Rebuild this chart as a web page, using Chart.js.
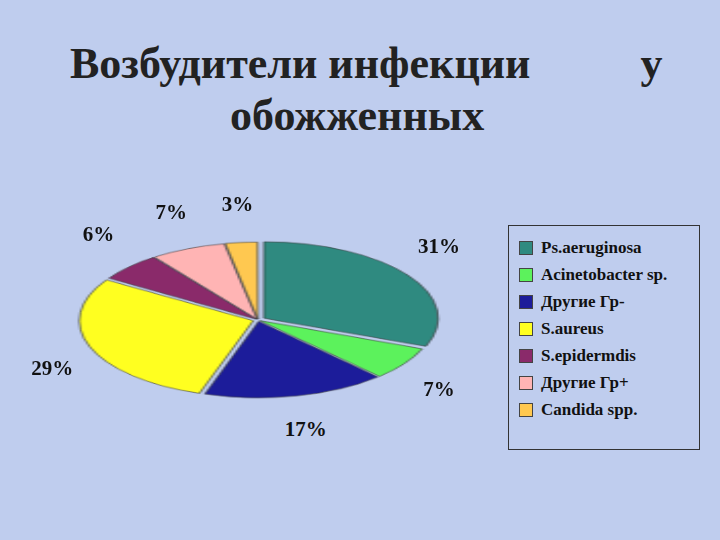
<!DOCTYPE html>
<html><head><meta charset="utf-8">
<script src="https://cdn.jsdelivr.net/npm/chart.js@4"></script>
<style>
body{margin:0;width:720px;height:540px;background:#bfcdee;font-family:"Liberation Serif",serif;position:relative;overflow:hidden}
#t1{position:absolute;left:70px;top:38px;font-size:44px;font-weight:bold;color:#222;white-space:pre}
#t2{position:absolute;left:230px;top:90px;font-size:44px;font-weight:bold;color:#222}
#wrap{position:absolute;left:158px;top:220px;width:200px;height:200px;transform:scale(2.05,0.9)}
#leg{position:absolute;left:508px;top:225px;width:192px;height:225px;border:1px solid #333;box-sizing:border-box;padding:8px 0 0 10px}
.it{display:flex;align-items:center;height:27px;font-size:17px;font-weight:bold;color:#111}
.sw{width:12px;height:12px;margin-right:8px;border:1px solid #444}
.pl{position:absolute;font-size:21px;font-weight:bold;color:#111;transform:translate(-50%,-50%)}
</style></head><body>
<div id="t1">Возбудители инфекции          у</div>
<div id="t2">обожженных</div>
<div id="wrap"><canvas id="c"></canvas></div>
<div id="leg"></div>
<div id="labs"></div>
<script>
const categories=["Ps.aeruginosa","Acinetobacter sp.","Другие Гр-","S.aureus","S.epidermdis","Другие Гр+","Candida spp."];
const values=[31,7,17,29,6,7,3];
const colors=["#2f8a80","#5cf25c","#1c1c9a","#ffff20","#8a2a6a","#ffb4b4","#ffc850"];
const leg=document.getElementById('leg');
categories.forEach((c,i)=>{leg.innerHTML+=`<div class="it"><span class="sw" style="background:${colors[i]}"></span>${c}</div>`;});
const cx=258,cy=310,sx=2.05,sy=0.9;
const labelPlugin={id:'lbl',afterRender(ch){const meta=ch.getDatasetMeta(0);let h='';
meta.data.forEach((a,i)=>{const m=(a.startAngle+a.endAngle)/2;const r=a.outerRadius+22;
h+=`<div class="pl" style="left:${cx+Math.cos(m)*r*sx}px;top:${cy+Math.sin(m)*r*sy+ (Math.sin(m)>0?25:-10)}px">${values[i]}%</div>`;});
document.getElementById('labs').innerHTML=h;}};
new Chart(document.getElementById('c'),{type:'pie',data:{labels:categories,datasets:[{data:values,backgroundColor:colors,borderColor:'#333',borderWidth:0.6,offset:[14,4,6,10,4,4,4]}]},
options:{responsive:true,maintainAspectRatio:false,animation:false,layout:{padding:8},plugins:{legend:{display:false},tooltip:{enabled:false}}},plugins:[labelPlugin]});
</script></body></html>
